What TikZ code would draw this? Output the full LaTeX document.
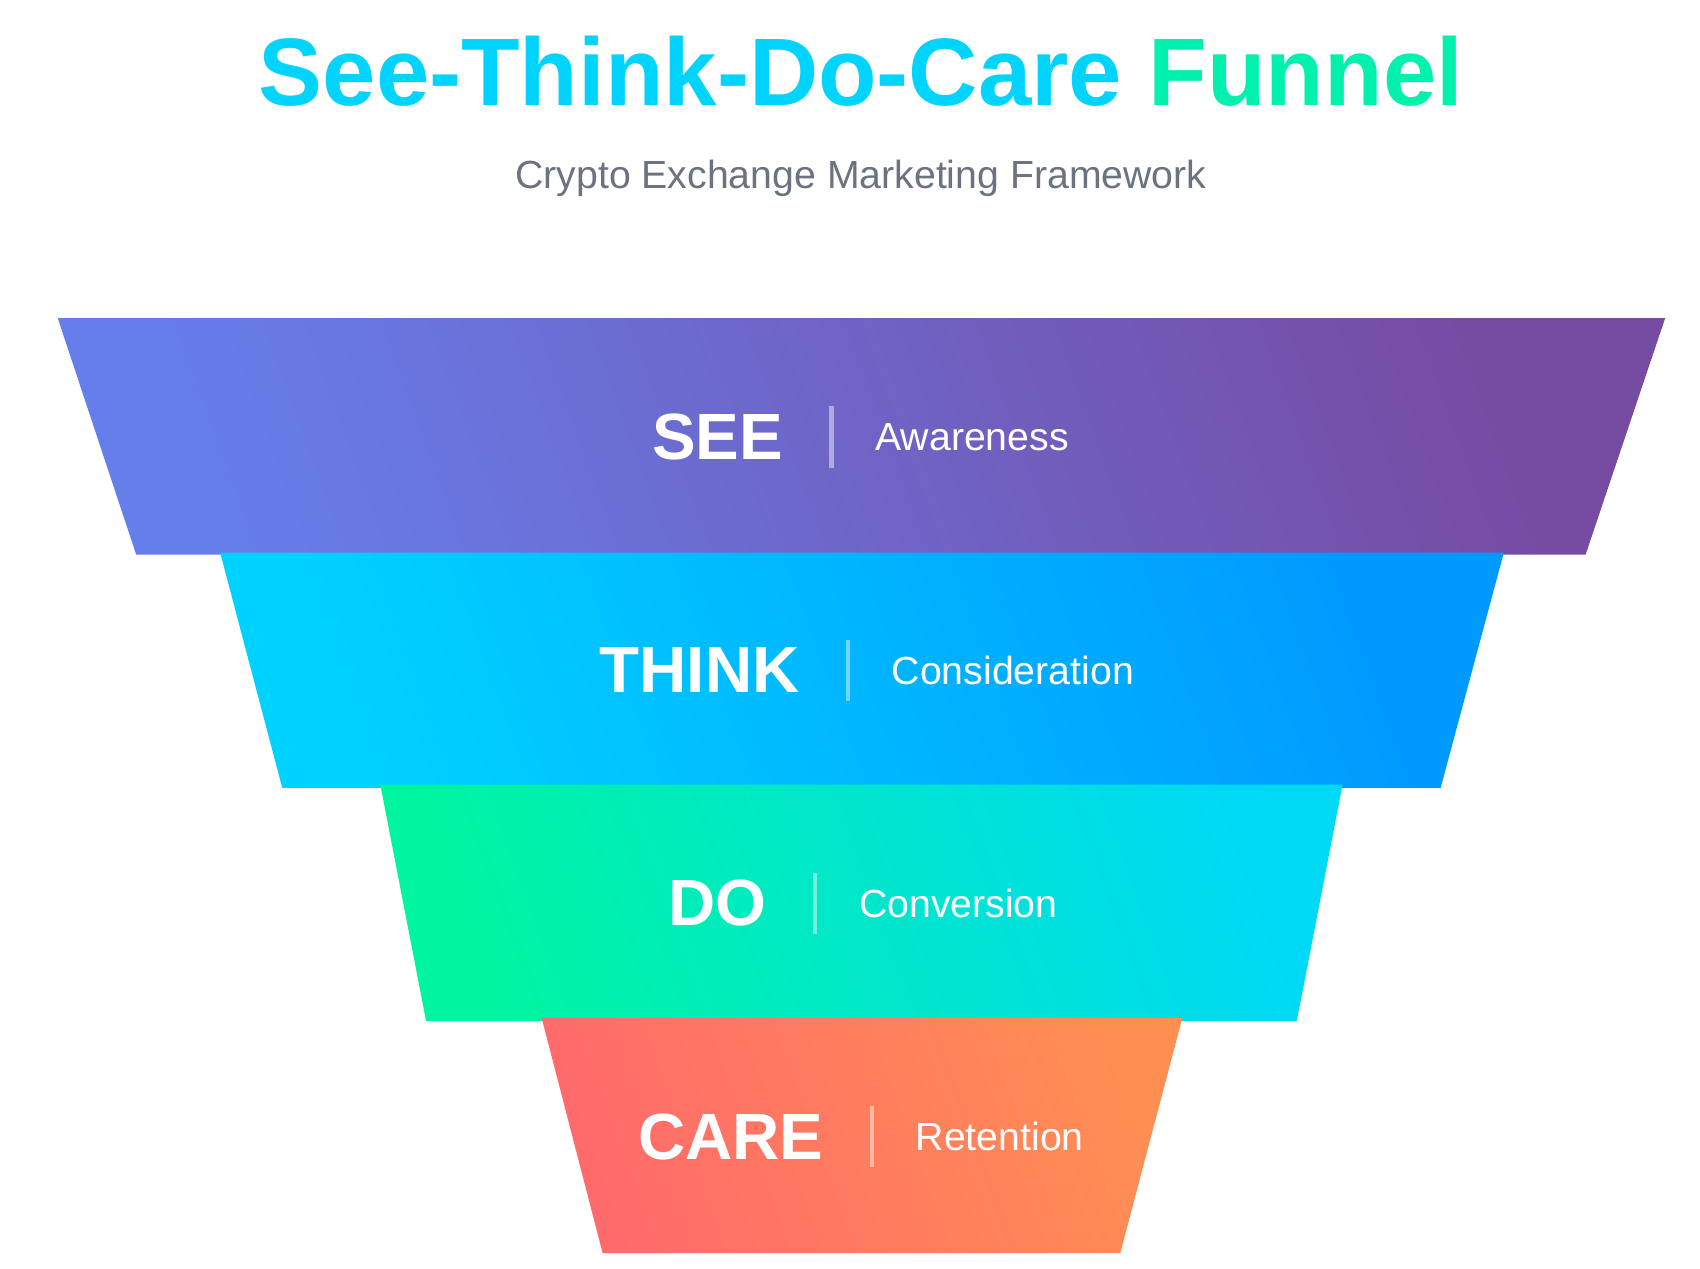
\documentclass[tikz,border=0pt]{standalone}
\usepackage{fontspec}
\setmainfont{Liberation Sans}
\usetikzlibrary{positioning}
\definecolor{seeA}{HTML}{667EEA}\definecolor{seeB}{HTML}{764BA2}
\definecolor{thinkA}{HTML}{00D2FF}\definecolor{thinkB}{HTML}{0099FF}
\definecolor{doA}{HTML}{00F5A0}\definecolor{doB}{HTML}{00D9F5}
\definecolor{careA}{HTML}{FF6B6B}\definecolor{careB}{HTML}{FF8E53}
\definecolor{subgray}{HTML}{6B7280}
\tikzset{
  stage/.style={font=\bfseries\fontsize{30}{30}\selectfont, text=white, anchor=east, inner sep=0pt},
  goal/.style={font=\fontsize{18}{18}\selectfont, text=white, anchor=west, inner sep=0pt},
  sep/.style={white, opacity=0.45, line width=2pt},
}
\begin{document}
\begin{tikzpicture}[x=0.5pt,y=-0.5pt]
\useasboundingbox (0,0) rectangle (1560,1164);
\node[font=\bfseries\fontsize{44}{44}\selectfont] (title) at (790,65)
  {\textcolor{thinkA!70!doB}{See-Think-Do-Care} \textcolor{doA!85!doB}{Funnel}};
\node[font=\fontsize{18}{18}\selectfont, text=subgray] (sub) at (790,164)
  {Crypto Exchange Marketing Framework};
% funnel layers: top-left, top-right, bottom-right, bottom-left, colours
\foreach \ya/\yb/\xa/\xb/\xc/\xd/\ca/\cb in {
  292/509/53/1528/1455/125/seeA/seeB,
  507/723/202/1380/1322/259/thinkA/thinkB,
  720/937/349/1232/1190/391/doA/doB,
  934/1150/497/1085/1028/553/careA/careB}
  \shade[left color=\ca, right color=\cb, shading angle=110]
    (\xa,\ya) -- (\xb,\ya) -- (\xc,\yb) -- (\xd,\yb) -- cycle;
% labels
\foreach \n/\y/\xs/\st/\gl in {see/401/763/SEE/Awareness,
  think/615/778/THINK/Consideration, do/829/748/DO/Conversion,
  care/1043/800/CARE/Retention}{
  \coordinate (\n-top) at (\xs,\y-28);
  \coordinate (\n-bot) at (\xs,\y+28);
  \draw[sep] (\n-top) -- (\n-bot);
  \node[stage, xshift=-22pt] (\n-st) at (\xs,\y) {\st};
  \node[goal, xshift=20pt] (\n-gl) at (\xs,\y) {\gl};
}
\end{tikzpicture}
\end{document}
